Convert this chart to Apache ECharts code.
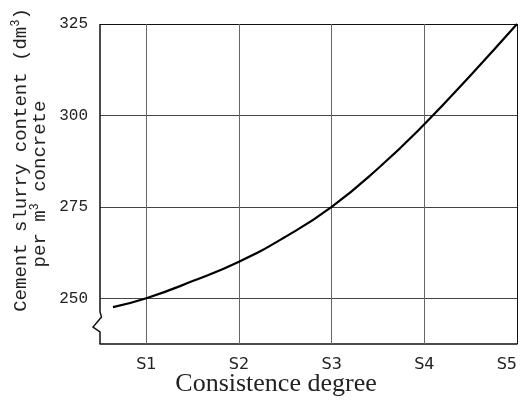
<!DOCTYPE html>
<html>
<head>
<meta charset="utf-8">
<script src="https://cdn.jsdelivr.net/npm/echarts@6/dist/echarts.min.js"></script>
<style>
  html, body { margin: 0; padding: 0; background: #fff; }
  #chart { width: 523px; height: 408px; }
</style>
</head>
<body>
<div id="chart"></div>
<script>
// Consistence classes on the x axis (numeric position -> label)
const xTicks = [1, 2, 3, 4, 5];
const xTickLabels = ['S1', 'S2', 'S3', 'S4', 'S5'];
// Horizontal reference levels, dm3 per m3
const yTicks = [250, 275, 300, 325];

// Slurry content curve: consistence position vs. content
const curveX = [0.64, 1, 1.5, 2, 2.5, 3, 3.5, 4, 4.5, 5];
const curveY = [247.6, 250, 254.7, 260, 266.8, 275, 285.5, 297.6, 311, 325];

const X_MIN = 0.5, X_MAX = 5;
const Y_MIN = 237.5, Y_MAX = 325;

const chart = echarts.init(document.getElementById('chart'), null, { renderer: 'canvas' });

const gridLines = [];
yTicks.forEach(v => gridLines.push({
  yAxis: v,
  lineStyle: { color: v === Y_MAX ? '#111' : '#444', width: 1, type: 'solid' }
}));
xTicks.forEach(v => gridLines.push({
  xAxis: v,
  lineStyle: { color: v === X_MAX ? '#111' : '#666', width: 1, type: 'solid' }
}));

const monoFont = '"Liberation Mono", "DejaVu Sans Mono", monospace';

chart.setOption({
  animation: false,
  backgroundColor: '#fff',
  grid: { left: 100, top: 24, right: 6, bottom: 64, containLabel: false },
  xAxis: {
    type: 'value',
    min: X_MIN, max: X_MAX, interval: 0.5,
    axisLine: { show: true, lineStyle: { color: '#111', width: 1.5 } },
    axisTick: { show: false },
    splitLine: { show: false },
    axisLabel: {
      color: '#222',
      fontFamily: '"DejaVu Sans", sans-serif',
      fontSize: 16,
      margin: 13,
      alignMaxLabel: 'right',
      formatter: v => {
        const i = xTicks.indexOf(v);
        return i >= 0 ? xTickLabels[i] : '';
      }
    }
  },
  yAxis: {
    type: 'value',
    min: Y_MIN, max: Y_MAX, interval: 12.5,
    axisLine: { show: false },
    axisTick: { show: false },
    splitLine: { show: false },
    axisLabel: {
      color: '#222',
      fontFamily: monoFont,
      fontSize: 16,
      margin: 12,
      formatter: v => (yTicks.indexOf(v) >= 0 ? String(v) : '')
    }
  },
  series: [{
    type: 'line',
    data: curveX.map((x, i) => [x, curveY[i]]),
    smooth: 0.5,
    showSymbol: false,
    lineStyle: { color: '#000', width: 2.2 },
    markLine: {
      silent: true,
      symbol: 'none',
      label: { show: false },
      data: gridLines
    },
    z: 5
  }]
});

// Left axis with a break mark below the 250 level, plus axis titles
const pTop = chart.convertToPixel({ gridIndex: 0 }, [X_MIN, Y_MAX]);
const pBot = chart.convertToPixel({ gridIndex: 0 }, [X_MIN, Y_MIN]);
const ax = pTop[0];
const brk = pBot[1] - 32;
chart.setOption({
  graphic: [
    {
      type: 'polyline',
      shape: {
        points: [
          [ax, pTop[1]], [ax, brk], [ax + 1.5, brk + 5],
          [ax - 7, brk + 15], [ax, brk + 20], [ax, pBot[1]]
        ]
      },
      style: { stroke: '#111', lineWidth: 1.5, fill: null },
      z: 10
    },
    {
      type: 'text',
      x: 21, y: 160,
      rotation: Math.PI / 2,
      style: {
        text: 'Cement slurry content (dm{sup|3})',
        font: '19px ' + monoFont,
        fill: '#222',
        align: 'center',
        verticalAlign: 'middle',
        rich: {
          sup: { fontSize: 12, fontFamily: monoFont, verticalAlign: 'top', padding: [0, 0, 10, 0], fill: '#222' }
        }
      }
    },
    {
      type: 'text',
      x: 40, y: 184,
      rotation: Math.PI / 2,
      style: {
        text: 'per m{sup|3} concrete',
        font: '19px ' + monoFont,
        fill: '#222',
        align: 'center',
        verticalAlign: 'middle',
        rich: {
          sup: { fontSize: 12, fontFamily: monoFont, verticalAlign: 'top', padding: [0, 0, 10, 0], fill: '#222' }
        }
      }
    },
    {
      type: 'text',
      x: 276, y: 384,
      style: {
        text: 'Consistence degree',
        font: '26px "Liberation Serif", "DejaVu Serif", serif',
        fill: '#222',
        align: 'center',
        verticalAlign: 'middle'
      }
    }
  ]
});
</script>
</body>
</html>
